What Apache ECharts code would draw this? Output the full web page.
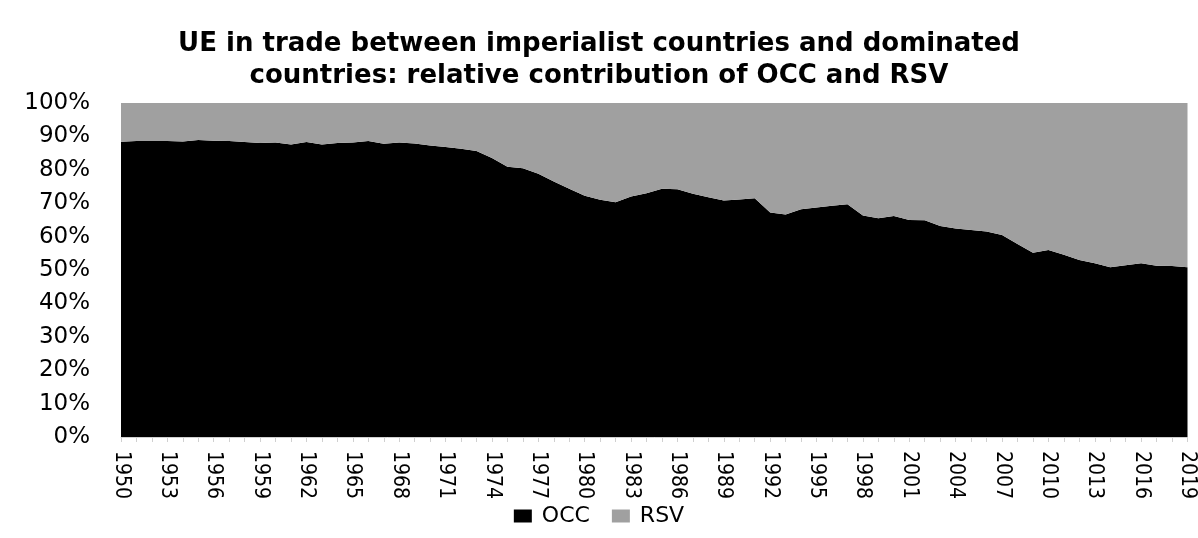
<!DOCTYPE html>
<html>
<head>
<meta charset="utf-8">
<script src="https://cdn.jsdelivr.net/npm/echarts@6/dist/echarts.min.js"></script>
<style>
html,body{margin:0;padding:0;background:#fff;}
#c{width:1198px;height:538px;}
</style>
</head>
<body>
<div id="c"></div>
<script>
const years = [];
for (let y = 1950; y <= 2019; y++) years.push(String(y));

const occ = [
88.4, 88.6, 88.6, 88.6, 88.5, 88.9, 88.7, 88.6, 88.3, 88.0,
88.2, 87.6, 88.3, 87.6, 88.0, 88.2, 88.6, 87.8, 88.2, 87.9,
87.3, 86.8, 86.3, 85.6, 83.5, 80.9, 80.5, 78.8, 76.5, 74.3,
72.2, 71.0, 70.3, 72.0, 73.0, 74.3, 74.2, 72.8, 71.8, 70.8,
71.1, 71.5, 67.2, 66.6, 68.2, 68.7, 69.2, 69.7, 66.3, 65.5,
66.2, 65.0, 64.9, 63.2, 62.4, 62.0, 61.5, 60.5, 57.8, 55.2,
56.0, 54.6, 53.0, 52.0, 50.8, 51.4, 52.0, 51.3, 51.2, 50.8
];

const rsv = [
11.6, 11.4, 11.4, 11.4, 11.5, 11.1, 11.3, 11.4, 11.7, 12.0,
11.8, 12.4, 11.7, 12.4, 12.0, 11.8, 11.4, 12.2, 11.8, 12.1,
12.7, 13.2, 13.7, 14.4, 16.5, 19.1, 19.5, 21.2, 23.5, 25.7,
27.8, 29.0, 29.7, 28.0, 27.0, 25.7, 25.8, 27.2, 28.2, 29.2,
28.9, 28.5, 32.8, 33.4, 31.8, 31.3, 30.8, 30.3, 33.7, 34.5,
33.8, 35.0, 35.1, 36.8, 37.6, 38.0, 38.5, 39.5, 42.2, 44.8,
44.0, 45.4, 47.0, 48.0, 49.2, 48.6, 48.0, 48.7, 48.8, 49.2
];

const titleText = 'UE in trade between imperialist countries and dominated\ncountries: relative contribution of OCC and RSV';
const wideFont = '"DejaVu Sans", sans-serif';
const narrowFont = '"Liberation Sans Narrow", "DejaVu Sans Condensed", sans-serif';

const chart = echarts.init(document.getElementById('c'), null, {renderer: 'canvas'});
chart.setOption({
  animation: false,
  backgroundColor: '#fff',
  title: {
    text: titleText,
    left: 'center',
    top: 23,
    textStyle: {fontFamily: wideFont, fontWeight: 'bold', fontSize: 26, lineHeight: 32, color: '#000'}
  },
  legend: {
    bottom: 6,
    left: 'center',
    itemWidth: 18,
    itemHeight: 13,
    itemGap: 22,
    icon: 'rect',
    textStyle: {fontFamily: wideFont, fontSize: 22, color: '#000', padding: [0, 0, 0, 5]},
    data: ['OCC', 'RSV']
  },
  grid: {left: 121, right: 8, top: 103, bottom: 101},
  xAxis: {
    type: 'category',
    data: years,
    boundaryGap: false,
    axisLine: {show: true, lineStyle: {color: '#d0d0d0'}},
    axisTick: {show: true, interval: 0, length: 5, lineStyle: {color: '#d0d0d0'}},
    axisLabel: {interval: 2, rotate: -90, fontFamily: narrowFont, fontSize: 21, color: '#000', margin: 14}
  },
  yAxis: {
    type: 'value',
    min: 0,
    max: 100,
    interval: 10,
    axisLine: {show: false},
    axisTick: {show: false},
    splitLine: {show: false},
    axisLabel: {formatter: '{value}%', fontFamily: wideFont, fontSize: 23, color: '#000', margin: 31}
  },
  series: [
    {
      name: 'OCC', type: 'line', stack: 'total', data: occ,
      symbol: 'none', lineStyle: {width: 0}, itemStyle: {color: '#000'},
      areaStyle: {color: '#000', opacity: 1}
    },
    {
      name: 'RSV', type: 'line', stack: 'total', data: rsv,
      symbol: 'none', lineStyle: {width: 0}, itemStyle: {color: '#a0a0a0'},
      areaStyle: {color: '#a0a0a0', opacity: 1}
    }
  ]
});
</script>
</body>
</html>
